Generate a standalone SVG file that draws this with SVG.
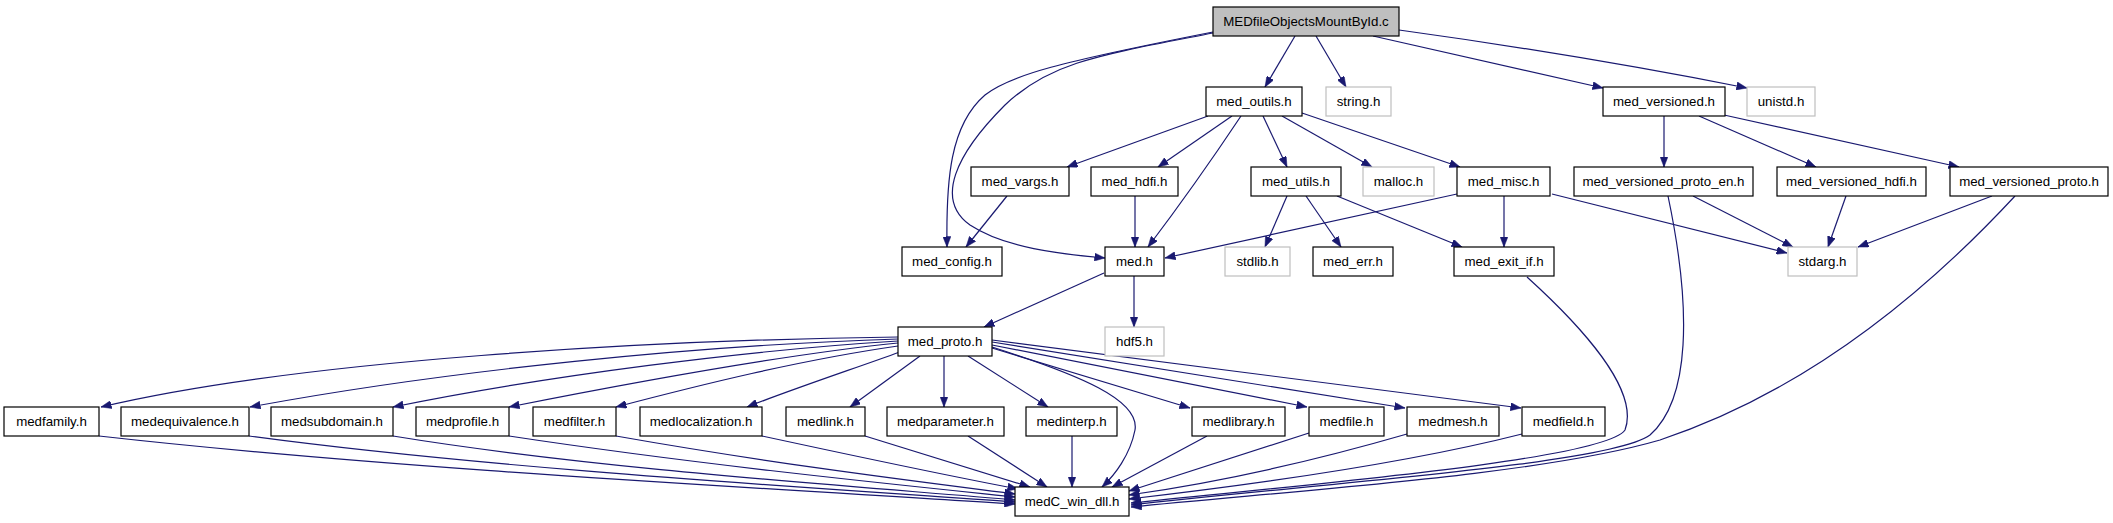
<svg xmlns="http://www.w3.org/2000/svg" width="2113" height="523" viewBox="0 0 2113 523">
<style>
  .n rect { fill: #ffffff; stroke: #000000; stroke-width: 1.2; }
  .g rect { fill: #ffffff; stroke: #bfbfbf; stroke-width: 1.2; }
  .root rect { fill: #bfbfbf; stroke: #000000; stroke-width: 1.2; }
  text { font-family: "Liberation Sans", Arial, sans-serif; font-size: 13.3px; fill: #000000; text-anchor: middle; }
  #edges path { fill: none; stroke: #191970; stroke-width: 1.2; marker-end: url(#arr); }
</style>
<defs>
  <marker id="arr" markerUnits="userSpaceOnUse" markerWidth="11" markerHeight="8" refX="10.5" refY="4" orient="auto">
    <path d="M0,0 L10.5,4 L0,8 z" fill="#191970" stroke="#191970" stroke-width="0.5"/>
  </marker>
</defs>
<rect width="2113" height="523" fill="#ffffff"/>
<g id="edges">
  <path d="M1295,36 L1265,87"/>
  <path d="M1316,36 L1346,87"/>
  <path d="M1373,36 L1603,88"/>
  <path d="M1399,30 Q1580,55 1747,88"/>
  <path d="M1213,32 C1060,62 1010,75 985,95 C950,125 946,180 947,247"/>
  <path d="M1213,33 C1100,55 1050,62 1005,105 C955,155 935,200 970,225 C1005,248 1060,254 1105,258"/>
  <path d="M1208,116 L1067,167"/>
  <path d="M1232,116 L1158,167"/>
  <path d="M1241,116 Q1195,185 1148,247"/>
  <path d="M1263,116 L1287,167"/>
  <path d="M1282,116 L1372,167"/>
  <path d="M1302,113 L1460,167"/>
  <path d="M1007,196 L966,247"/>
  <path d="M1135,196 L1135,247"/>
  <path d="M1287,196 L1265,247"/>
  <path d="M1306,196 L1341,247"/>
  <path d="M1337,196 L1462,247"/>
  <path d="M1457,194 L1165,258"/>
  <path d="M1504,196 L1504,247"/>
  <path d="M1552,194 L1787,253"/>
  <path d="M1664,116 L1664,167"/>
  <path d="M1699,116 L1816,167"/>
  <path d="M1724,115 L1959,167"/>
  <path d="M1693,196 L1793,247"/>
  <path d="M1846,196 L1828,247"/>
  <path d="M1992,196 L1858,247"/>
  <path d="M1668,196 C1692,310 1690,400 1650,435 C1610,465 1300,485 1131,505"/>
  <path d="M2015,196 C1900,320 1780,400 1660,440 C1540,475 1300,490 1131,507"/>
  <path d="M1527,277 C1580,325 1640,390 1625,430 C1605,460 1300,485 1131,503"/>
  <path d="M1104,273 L984,327"/>
  <path d="M1134,276 L1134,327"/>
  <path d="M898,337 C650,340 300,360 101,407"/>
  <path d="M898,339 C700,345 450,370 250,407"/>
  <path d="M898,341 C750,350 550,375 393,407"/>
  <path d="M898,343 C780,355 620,385 509,407"/>
  <path d="M898,346 C800,360 700,385 616,407"/>
  <path d="M900,352 C850,370 790,390 747,407"/>
  <path d="M920,356 L850,407"/>
  <path d="M944,356 L944,407"/>
  <path d="M968,356 L1048,407"/>
  <path d="M992,347 C1080,375 1140,400 1135,430 C1130,455 1115,475 1102,487"/>
  <path d="M992,348 L1190,408"/>
  <path d="M992,345 L1307,407"/>
  <path d="M992,342 L1405,408"/>
  <path d="M992,340 L1521,408"/>
  <path d="M99,436 C400,470 800,490 1015,504"/>
  <path d="M249,436 C500,470 850,490 1015,502"/>
  <path d="M393,436 C600,470 880,488 1015,500"/>
  <path d="M509,436 C700,465 900,485 1015,497"/>
  <path d="M616,436 C780,465 930,483 1015,494"/>
  <path d="M762,436 C850,455 960,478 1018,489"/>
  <path d="M865,436 L1030,487"/>
  <path d="M968,436 L1047,487"/>
  <path d="M1072,436 L1072,487"/>
  <path d="M1207,436 L1112,487"/>
  <path d="M1309,433 L1129,491"/>
  <path d="M1407,434 C1300,465 1200,485 1129,495"/>
  <path d="M1522,434 C1400,465 1250,485 1129,499"/>
</g>
<g id="node-root" class="root"><rect x="1213" y="7" width="186" height="29"/><text x="1306" y="26">MEDfileObjectsMountById.c</text></g>
<g id="node-med_outils" class="n"><rect x="1206" y="87" width="96" height="29"/><text x="1254" y="106">med_outils.h</text></g>
<g id="node-string" class="g"><rect x="1326" y="87" width="65" height="29"/><text x="1358.5" y="106">string.h</text></g>
<g id="node-med_versioned" class="n"><rect x="1603" y="87" width="122" height="29"/><text x="1664" y="106">med_versioned.h</text></g>
<g id="node-unistd" class="g"><rect x="1747" y="87" width="68" height="29"/><text x="1781" y="106">unistd.h</text></g>
<g id="node-med_vargs" class="n"><rect x="971" y="167" width="98" height="29"/><text x="1020" y="186">med_vargs.h</text></g>
<g id="node-med_hdfi" class="n"><rect x="1091" y="167" width="87" height="29"/><text x="1134.5" y="186">med_hdfi.h</text></g>
<g id="node-med_utils" class="n"><rect x="1251" y="167" width="90" height="29"/><text x="1296" y="186">med_utils.h</text></g>
<g id="node-malloc" class="g"><rect x="1363" y="167" width="71" height="29"/><text x="1398.5" y="186">malloc.h</text></g>
<g id="node-med_misc" class="n"><rect x="1457" y="167" width="93" height="29"/><text x="1503.5" y="186">med_misc.h</text></g>
<g id="node-med_versioned_proto_en" class="n"><rect x="1574" y="167" width="179" height="29"/><text x="1663.5" y="186">med_versioned_proto_en.h</text></g>
<g id="node-med_versioned_hdfi" class="n"><rect x="1777" y="167" width="149" height="29"/><text x="1851.5" y="186">med_versioned_hdfi.h</text></g>
<g id="node-med_versioned_proto" class="n"><rect x="1950" y="167" width="158" height="29"/><text x="2029" y="186">med_versioned_proto.h</text></g>
<g id="node-med_config" class="n"><rect x="902" y="247" width="100" height="29"/><text x="952" y="266">med_config.h</text></g>
<g id="node-med" class="n"><rect x="1105" y="247" width="59" height="29"/><text x="1134.5" y="266">med.h</text></g>
<g id="node-stdlib" class="g"><rect x="1225" y="247" width="65" height="29"/><text x="1257.5" y="266">stdlib.h</text></g>
<g id="node-med_err" class="n"><rect x="1313" y="247" width="80" height="29"/><text x="1353" y="266">med_err.h</text></g>
<g id="node-med_exit_if" class="n"><rect x="1454" y="247" width="100" height="29"/><text x="1504" y="266">med_exit_if.h</text></g>
<g id="node-stdarg" class="g"><rect x="1788" y="247" width="69" height="29"/><text x="1822.5" y="266">stdarg.h</text></g>
<g id="node-med_proto" class="n"><rect x="898" y="327" width="94" height="29"/><text x="945" y="346">med_proto.h</text></g>
<g id="node-hdf5" class="g"><rect x="1105" y="327" width="59" height="29"/><text x="1134.5" y="346">hdf5.h</text></g>
<g id="node-medfamily" class="n"><rect x="4" y="407" width="95" height="29"/><text x="51.5" y="426">medfamily.h</text></g>
<g id="node-medequivalence" class="n"><rect x="121" y="407" width="128" height="29"/><text x="185" y="426">medequivalence.h</text></g>
<g id="node-medsubdomain" class="n"><rect x="271" y="407" width="122" height="29"/><text x="332" y="426">medsubdomain.h</text></g>
<g id="node-medprofile" class="n"><rect x="416" y="407" width="93" height="29"/><text x="462.5" y="426">medprofile.h</text></g>
<g id="node-medfilter" class="n"><rect x="533" y="407" width="83" height="29"/><text x="574.5" y="426">medfilter.h</text></g>
<g id="node-medlocalization" class="n"><rect x="640" y="407" width="122" height="29"/><text x="701" y="426">medlocalization.h</text></g>
<g id="node-medlink" class="n"><rect x="786" y="407" width="79" height="29"/><text x="825.5" y="426">medlink.h</text></g>
<g id="node-medparameter" class="n"><rect x="887" y="407" width="117" height="29"/><text x="945.5" y="426">medparameter.h</text></g>
<g id="node-medinterp" class="n"><rect x="1026" y="407" width="91" height="29"/><text x="1071.5" y="426">medinterp.h</text></g>
<g id="node-medlibrary" class="n"><rect x="1192" y="407" width="93" height="29"/><text x="1238.5" y="426">medlibrary.h</text></g>
<g id="node-medfile" class="n"><rect x="1309" y="407" width="75" height="29"/><text x="1346.5" y="426">medfile.h</text></g>
<g id="node-medmesh" class="n"><rect x="1407" y="407" width="92" height="29"/><text x="1453" y="426">medmesh.h</text></g>
<g id="node-medfield" class="n"><rect x="1522" y="407" width="83" height="29"/><text x="1563.5" y="426">medfield.h</text></g>
<g id="node-medC_win_dll" class="n"><rect x="1015" y="487" width="114" height="29"/><text x="1072" y="506">medC_win_dll.h</text></g>
</svg>
